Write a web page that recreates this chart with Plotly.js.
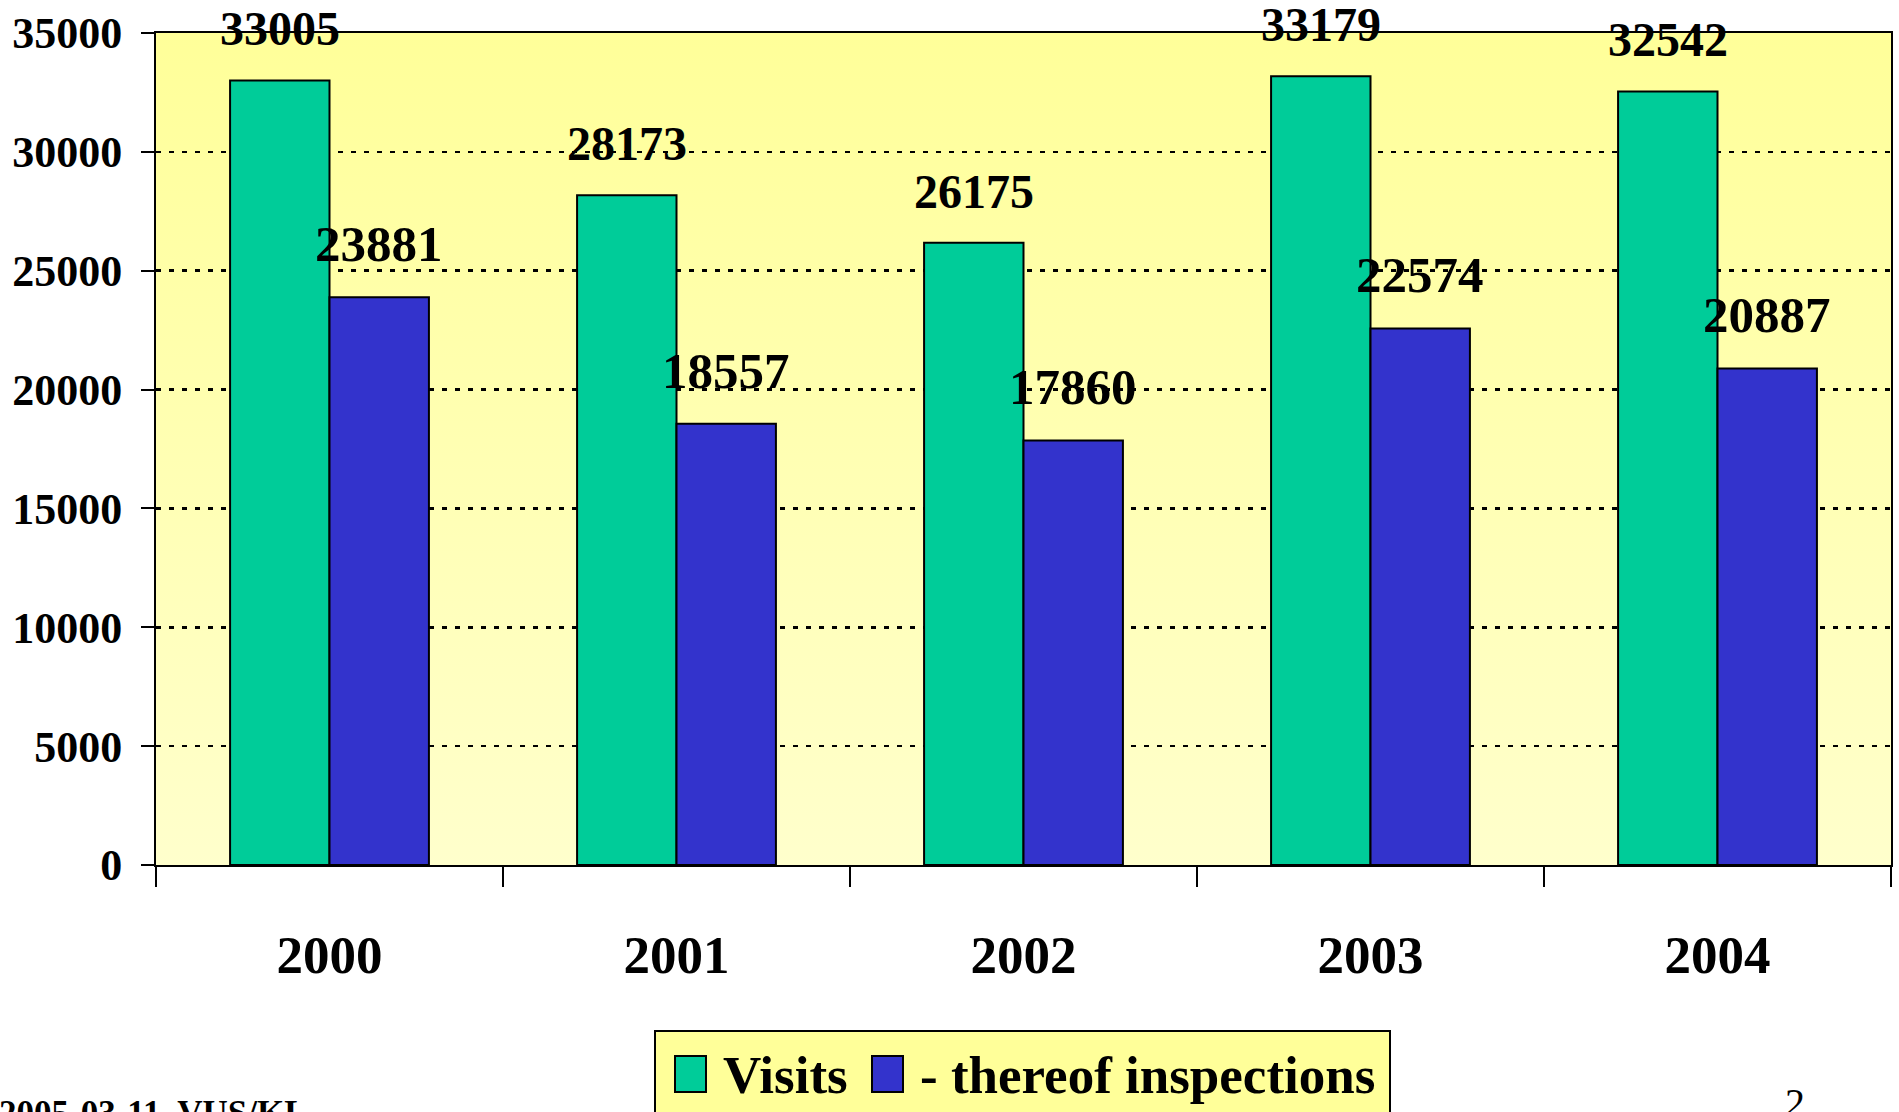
<!DOCTYPE html>
<html>
<head>
<meta charset="utf-8">
<script src="https://cdn.plot.ly/plotly-3.0.1.min.js"></script>
<style>
html,body{margin:0;padding:0;background:#fff;}
#chart{width:1899px;height:1112px;}
</style>
</head>
<body>
<div id="chart"></div>
<script>
// ---- data ----
const years = ['2000', '2001', '2002', '2003', '2004'];
const visits = [33005, 28173, 26175, 33179, 32542];
const inspections = [23881, 18557, 17860, 22574, 20887];
const yTickVals = [0, 5000, 10000, 15000, 20000, 25000, 30000, 35000];
const seriesNames = ['Visits', '- thereof inspections'];
const footerLeft = '2005-03-11  VUS/KL';
const pageNumber = '2';

// ---- layout geometry ----
const FW = 1899, FH = 1112;
const M = {l: 156, r: 8, t: 33, b: 247};
const PW = FW - M.l - M.r, PH = FH - M.t - M.b;
const px2x = p => (p - M.l) / PW;
const py2y = p => (FH - M.b - p) / PH;
const bargap = 0.427;
const catW = PW / years.length;
const barW = catW * (1 - bargap) / 2;

const serif = 'Liberation Serif, Times New Roman, serif';
const green = '#00CC99', blue = '#3333CC';

const traces = [
  {type: 'bar', name: seriesNames[0], x: years, y: visits,
   marker: {color: green, line: {color: '#000', width: 2}}, hoverinfo: 'x+y'},
  {type: 'bar', name: seriesNames[1], x: years, y: inspections,
   marker: {color: blue, line: {color: '#000', width: 2}}, hoverinfo: 'x+y'}
];

const annotations = [];
[[visits, -barW / 2, 48], [inspections, barW / 2, 51]].forEach(([vals, sh, fs]) => {
  vals.forEach((v, i) => {
    annotations.push({x: i, y: v, xref: 'x', yref: 'y', text: String(v),
      showarrow: false, xshift: sh, yshift: 23, yanchor: 'bottom',
      font: {family: serif, size: fs, color: '#000', weight: 'bold'}});
  });
});

// manual legend
const legFont = {family: serif, size: 53, color: '#000', weight: 'bold'};
annotations.push({xref: 'paper', yref: 'paper', x: px2x(721), y: py2y(1075), xanchor: 'left', yanchor: 'middle',
  text: seriesNames[0], showarrow: false, font: legFont});
annotations.push({xref: 'paper', yref: 'paper', x: px2x(918), y: py2y(1075), xanchor: 'left', yanchor: 'middle',
  text: seriesNames[1], showarrow: false, font: legFont});
// footer
annotations.push({xref: 'paper', yref: 'paper', x: px2x(-3), y: py2y(1092), xanchor: 'left', yanchor: 'top',
  text: footerLeft, showarrow: false, font: {family: serif, size: 35, color: '#000', weight: 'bold'}});
annotations.push({xref: 'paper', yref: 'paper', x: px2x(1795), y: py2y(1078), xanchor: 'center', yanchor: 'top',
  text: pageNumber, showarrow: false, font: {family: serif, size: 40, color: '#000'}});

const shapes = [
  {type: 'rect', xref: 'paper', yref: 'paper', x0: px2x(655), x1: px2x(1390), y0: py2y(1031), y1: py2y(1130),
   fillcolor: '#FFFF99', line: {color: '#000', width: 2}, layer: 'above'},
  {type: 'rect', xref: 'paper', yref: 'paper', x0: px2x(675), x1: px2x(706), y0: py2y(1056), y1: py2y(1092),
   fillcolor: green, line: {color: '#000', width: 2}, layer: 'above'},
  {type: 'rect', xref: 'paper', yref: 'paper', x0: px2x(872), x1: px2x(903), y0: py2y(1056), y1: py2y(1092),
   fillcolor: blue, line: {color: '#000', width: 2}, layer: 'above'}
];

const gradSvg = "<svg xmlns='http://www.w3.org/2000/svg' width='100' height='100' preserveAspectRatio='none'>" +
  "<defs><linearGradient id='g' x1='0' y1='0' x2='0' y2='1'>" +
  "<stop offset='0' stop-color='#FFFF99'/><stop offset='1' stop-color='#FFFFCC'/></linearGradient></defs>" +
  "<rect width='100' height='100' fill='url(#g)'/></svg>";

const layout = {
  width: FW, height: FH,
  margin: M,
  paper_bgcolor: '#FFFFFF',
  plot_bgcolor: '#FFFFCC',
  showlegend: false,
  barmode: 'group',
  bargap: bargap,
  bargroupgap: 0,
  images: [{source: 'data:image/svg+xml;charset=utf-8,' + encodeURIComponent(gradSvg),
    xref: 'paper', yref: 'paper', x: 0, y: 1, sizex: 1, sizey: 1, sizing: 'stretch',
    xanchor: 'left', yanchor: 'top', layer: 'below'}],
  xaxis: {
    type: 'category', range: [-0.5, years.length - 0.5], autorange: false,
    tickson: 'boundaries', ticks: 'outside', ticklen: 20, tickwidth: 2, tickcolor: '#000',
    showline: true, linecolor: '#000', linewidth: 2, mirror: true, showgrid: false,
    tickfont: {family: serif, size: 53, color: '#000', weight: 'bold'},
    tickangle: 0, ticklabelstandoff: 42
  },
  yaxis: {
    range: [0, 35000], autorange: false, tickvals: yTickVals, ticktext: yTickVals.map(String),
    ticks: 'outside', ticklen: 13, tickwidth: 2, tickcolor: '#000',
    showline: true, linecolor: '#000', linewidth: 2, mirror: true,
    showgrid: true, gridcolor: '#000', gridwidth: 2.5, griddash: '5px,8px',
    zeroline: false,
    tickfont: {family: serif, size: 44, color: '#000', weight: 'bold'},
    ticklabelstandoff: 10
  },
  annotations: annotations,
  shapes: shapes
};

Plotly.newPlot('chart', traces, layout, {displayModeBar: false, staticPlot: true});
</script>
</body>
</html>
